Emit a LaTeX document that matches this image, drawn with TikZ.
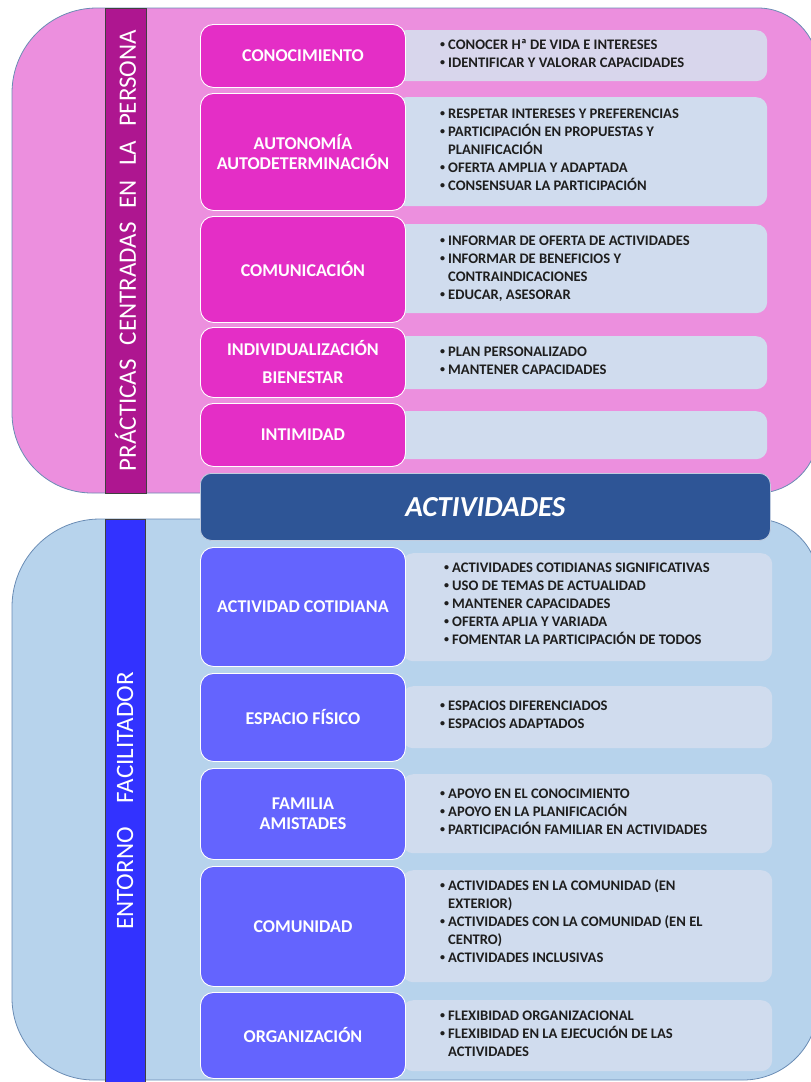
\documentclass[tikz,border=0pt]{standalone}
\usepackage{fontspec}
\setmainfont{Carlito}
\usepackage{array}
\definecolor{pinkbg}{HTML}{EC8FDE}
\definecolor{pinkstrip}{HTML}{AE1690}
\definecolor{pinkbox}{HTML}{E42EC6}
\definecolor{lavbox}{HTML}{D8D6EC}
\definecolor{lightbox}{HTML}{D0DCEE}
\definecolor{bluebg}{HTML}{B7D3EC}
\definecolor{bluestrip}{HTML}{3232FF}
\definecolor{bluebox}{HTML}{6464FE}
\definecolor{band}{HTML}{2E5596}
\definecolor{panelline}{HTML}{6A8CB4}
\definecolor{bultext}{HTML}{1E1E1E}
\tikzset{
  panel/.style={draw=panelline, line width=0.8pt},
  stripbox/.style={rotate=90, draw=black!75, line width=0.8pt, text=white, inner sep=0pt,
    font=\fontsize{25}{29}\selectfont},
  catbox/.style={anchor=north west, draw=white, line width=0.9pt, rounded corners=13pt,
    minimum width=205pt, text=white, align=center, inner sep=0pt,
    font=\fontsize{18}{20}\selectfont\bfseries},
  pinkcat/.style={catbox, fill=pinkbox},
  bluecat/.style={catbox, fill=bluebox},
  itembox/.style={anchor=north west, fill=lightbox, rounded corners=11pt, inner sep=0pt},
  btext/.style={anchor=west, inner sep=0pt, text=bultext, font=\fontsize{14.6}{18}\selectfont\bfseries},
  bandbox/.style={anchor=north west, fill=band, draw=white!70!band, line width=0.8pt,
    rounded corners=11pt, minimum width=570pt, minimum height=67pt, text=white,
    font=\fontsize{29}{32}\selectfont\bfseries\itshape}
}
\newcommand{\bitems}[1]{\begin{tabular}{@{}p{8pt}@{}l@{}}#1\end{tabular}}
\newcommand{\bu}{\raisebox{2pt}{\fontsize{10}{10}\selectfont•}}
\begin{document}
\begin{tikzpicture}[x=1pt,y=-1pt]
\useasboundingbox (0,0) rectangle (811,1082);
\clip (0,0) rectangle (811,1082);
% panels
\draw[panel, fill=pinkbg] (97,8) -- (758,8) .. controls (791.1,8) and (818,34.9) .. (818,68)
  -- (818,433) .. controls (818,466.1) and (791.1,493) .. (758,493)
  -- (92,493) .. controls (47.8,493) and (12,457.2) .. (12,413)
  -- (12,93) .. controls (12,46.1) and (50.1,8) .. (97,8) -- cycle;
\draw[panel, fill=bluebg] (100,519) -- (756,519) .. controls (790.2,519) and (818,546.8) .. (818,581)
  -- (818,1005) .. controls (818,1046.4) and (784.4,1080) .. (743,1080)
  -- (94,1080) .. controls (48.7,1080) and (12,1043.3) .. (12,998)
  -- (12,607) .. controls (12,558.4) and (51.4,519) .. (100,519) -- cycle;
% strips
\node[stripbox, fill=pinkstrip, minimum width=485pt, minimum height=41pt] (s1) at (125.5,250.5)
  {PRÁCTICAS\hspace{14pt}CENTRADAS\hspace{14pt}EN\hspace{14pt}LA\hspace{14pt}PERSONA};
\node[stripbox, fill=bluestrip, minimum width=564pt, minimum height=40pt] (s2) at (125,801)
  {ENTORNO\hspace{24pt}FACILITADOR};
% item boxes (top)
\node[itembox, fill=lavbox, minimum width=372pt, minimum height=51pt] (r1) at (395,30) {};
\node[itembox, minimum width=372pt, minimum height=109pt] (r2) at (395,97) {};
\node[itembox, minimum width=372pt, minimum height=89pt] (r3) at (395,224) {};
\node[itembox, minimum width=372pt, minimum height=53pt] (r4) at (395,336) {};
\node[itembox, minimum width=372pt, minimum height=48pt] (r5) at (395,411) {};
% item boxes (bottom)
\node[itembox, minimum width=370pt, minimum height=108pt] (q1) at (402,553) {};
\node[itembox, minimum width=370pt, minimum height=62pt] (q2) at (402,686) {};
\node[itembox, minimum width=370pt, minimum height=79pt] (q3) at (402,774) {};
\node[itembox, minimum width=370pt, minimum height=112pt] (q4) at (402,870) {};
\node[itembox, minimum width=370pt, minimum height=71pt] (q5) at (402,1000) {};
% category boxes (top)
\node[pinkcat, minimum height=63pt] (c1) at (200,24) {CONOCIMIENTO};
\node[pinkcat, minimum height=117pt] (c2) at (200,93) {AUTONOMÍA\\AUTODETERMINACIÓN};
\node[pinkcat, minimum height=106pt] (c3) at (200,216) {COMUNICACIÓN};
\node[pinkcat, minimum height=70pt] (c4) at (200,327) {INDIVIDUALIZACIÓN\\[8pt]BIENESTAR};
\node[pinkcat, minimum height=63pt] (c5) at (200,403) {INTIMIDAD};
% band
\node[bandbox] (act) at (200,473) {ACTIVIDADES};
% category boxes (bottom)
\node[bluecat, minimum height=119pt] (d1) at (200,547) {ACTIVIDAD COTIDIANA};
\node[bluecat, minimum height=88pt] (d2) at (200,673) {ESPACIO FÍSICO};
\node[bluecat, minimum height=91pt] (d3) at (200,768) {FAMILIA\\AMISTADES};
\node[bluecat, minimum height=120pt] (d4) at (200,866) {COMUNIDAD};
\node[bluecat, minimum height=86pt] (d5) at (200,992) {ORGANIZACIÓN};
% item texts (top)
\node[btext] (t1) at (440,54.5) {\bitems{\bu & CONOCER Hª DE VIDA E INTERESES\\ \bu & IDENTIFICAR Y VALORAR CAPACIDADES}};
\node[btext] (t2) at (440,150.5) {\bitems{\bu & RESPETAR INTERESES Y PREFERENCIAS\\ \bu & PARTICIPACIÓN EN PROPUESTAS Y\\ & PLANIFICACIÓN\\ \bu & OFERTA AMPLIA Y ADAPTADA\\ \bu & CONSENSUAR LA PARTICIPACIÓN}};
\node[btext] (t3) at (440,268.5) {\bitems{\bu & INFORMAR DE OFERTA DE ACTIVIDADES\\ \bu & INFORMAR DE BENEFICIOS Y\\ & CONTRAINDICACIONES\\ \bu & EDUCAR, ASESORAR}};
\node[btext] (t4) at (440,361.5) {\bitems{\bu & PLAN PERSONALIZADO\\ \bu & MANTENER CAPACIDADES}};
% item texts (bottom)
\node[btext] (u1) at (444,605) {\bitems{\bu & ACTIVIDADES COTIDIANAS SIGNIFICATIVAS\\ \bu & USO DE TEMAS DE ACTUALIDAD\\ \bu & MANTENER CAPACIDADES\\ \bu & OFERTA APLIA Y VARIADA\\ \bu & FOMENTAR LA PARTICIPACIÓN DE TODOS}};
\node[btext] (u2) at (440,716) {\bitems{\bu & ESPACIOS DIFERENCIADOS\\ \bu & ESPACIOS ADAPTADOS}};
\node[btext] (u3) at (440,812.5) {\bitems{\bu & APOYO EN EL CONOCIMIENTO\\ \bu & APOYO EN LA PLANIFICACIÓN\\ \bu & PARTICIPACIÓN FAMILIAR EN ACTIVIDADES}};
\node[btext] (u4) at (440,923) {\bitems{\bu & ACTIVIDADES EN LA COMUNIDAD (EN\\ & EXTERIOR)\\ \bu & ACTIVIDADES CON LA COMUNIDAD (EN EL\\ & CENTRO)\\ \bu & ACTIVIDADES INCLUSIVAS}};
\node[btext] (u5) at (440,1035) {\bitems{\bu & FLEXIBIDAD ORGANIZACIONAL\\ \bu & FLEXIBIDAD EN LA EJECUCIÓN DE LAS\\ & ACTIVIDADES}};
\end{tikzpicture}
\end{document}
